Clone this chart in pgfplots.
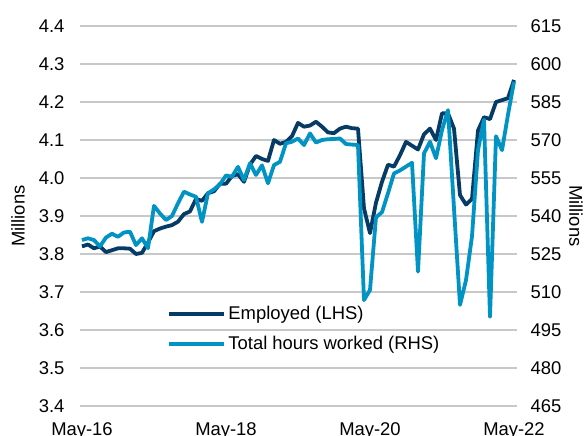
\documentclass[border=0pt]{standalone}
\usepackage{fontspec}
\setmainfont{Liberation Sans}
\usepackage{pgfplots}
\pgfplotsset{compat=1.18}
\usepackage{pgfplotstable}
\definecolor{dark}{RGB}{5,59,101}
\definecolor{light}{RGB}{0,147,196}
\definecolor{gridc}{RGB}{200,200,200}

\pgfplotstableread{
m v
0 3.820
1 3.825
2 3.815
3 3.820
4 3.805
5 3.810
6 3.815
7 3.815
8 3.814
9 3.800
10 3.803
11 3.830
12 3.860
13 3.867
14 3.872
15 3.876
16 3.885
17 3.905
18 3.912
19 3.945
20 3.940
21 3.960
22 3.965
23 3.985
24 3.985
25 4.005
26 4.010
27 3.990
28 4.035
29 4.058
30 4.050
31 4.045
32 4.100
33 4.090
34 4.095
35 4.110
36 4.145
37 4.135
38 4.138
39 4.148
40 4.135
41 4.120
42 4.118
43 4.130
44 4.135
45 4.131
46 4.130
47 3.920
48 3.855
49 3.935
50 3.990
51 4.035
52 4.030
53 4.060
54 4.095
55 4.085
56 4.075
57 4.115
58 4.130
59 4.100
60 4.170
61 4.170
62 4.130
63 3.955
64 3.930
65 3.945
66 4.125
67 4.160
68 4.155
69 4.200
70 4.205
71 4.210
72 4.258
}\emp

\pgfplotstableread{
m v
0 530.5
1 531.2
2 530.5
3 528.0
4 531.5
5 533.0
6 531.8
7 533.5
8 533.8
9 528.5
10 531.2
11 527.3
12 544.0
13 541.0
14 538.4
15 540.0
16 545.0
17 549.6
18 548.5
19 547.6
20 537.7
21 549.0
22 550.5
23 552.5
24 556.0
25 555.5
26 559.4
27 554.2
28 560.8
29 556.2
30 560.0
31 552.9
32 560.1
33 561.4
34 568.7
35 569.3
36 570.6
37 568.0
38 572.6
39 569.0
40 570.0
41 570.3
42 570.4
43 570.6
44 568.4
45 568.2
46 568.0
47 506.8
48 510.8
49 539.5
50 541.5
51 549.0
52 556.8
53 558.0
54 559.5
55 561.0
56 518.0
57 564.7
58 569.3
59 562.8
60 573.9
61 581.8
62 543.0
63 504.9
64 514.7
65 532.0
66 566.0
67 578.0
68 500.2
69 571.5
70 566.0
71 580.0
72 593.0
}\hrs

\pgfplotsset{
  base/.style={
    scale only axis, width=437bp, height=380bp,
    xmin=-0.33, xmax=72.5,
    xtick={0,24,48,72}, xticklabels={May-16,May-18,May-20,May-22},
    major tick length=0pt, axis line style={draw=none},
    tick label style={font=\fontsize{18.5}{22}\selectfont},
    label style={font=\fontsize{18.5}{22}\selectfont},
    /pgf/number format/assume math mode=true,
  }
}

\begin{document}
\begin{tikzpicture}
\begin{axis}[base, name=L,
  ymin=3.4, ymax=4.4,
  ytick={3.4,3.5,3.6,3.7,3.8,3.9,4.0,4.1,4.2,4.3,4.4},
  /pgf/number format/fixed, /pgf/number format/fixed zerofill, /pgf/number format/precision=1,
  yticklabel style={xshift=-12bp},
  xticklabel style={yshift=-13bp},
  ymajorgrids, grid style={gridc, line width=1.3bp},
  ylabel={Millions},
  ylabel style={at={(axis description cs:-0.142,0.5)}, anchor=center},
]
\addplot[dark, line width=3.8bp, line join=round] table[x=m, y=v] {\emp};
\end{axis}
\begin{axis}[base,
  ymin=465, ymax=615,
  ytick={465,480,495,510,525,540,555,570,585,600,615},
  axis y line*=right, axis x line=none,
  yticklabel style={xshift=10bp},
  ylabel={Millions},
  ylabel style={at={(axis description cs:1.135,0.5)}, anchor=center, rotate=180},
  legend style={at={(axis description cs:0.2,0.268)}, anchor=north west,
    draw=none, fill=none, font=\fontsize{18.5}{22}\selectfont,
    row sep=11bp, inner sep=0pt, nodes={inner sep=2bp}},
  legend cell align=left,
  legend image code/.code={\draw[#1] (0bp,0bp) -- (55bp,0bp);},
]
\addlegendimage{dark, line width=3.8bp}
\addlegendentry{Employed (LHS)}
\addplot[light, line width=3.8bp, line join=round] table[x=m, y=v] {\hrs};
\addlegendentry{Total hours worked (RHS)}
\end{axis}
\pgfresetboundingbox
\path[use as bounding box] ([shift={(-80bp,-30bp)}]L.south west) rectangle ([shift={(508bp,406bp)}]L.south west);
\end{tikzpicture}
\end{document}
